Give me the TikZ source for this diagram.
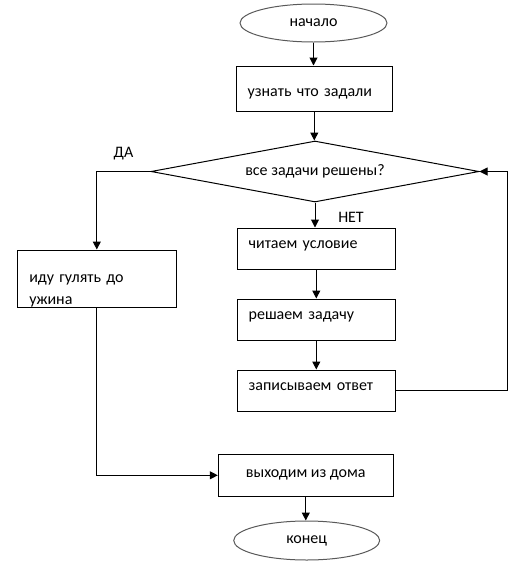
\documentclass[tikz,border=0pt]{standalone}
\usepackage{fontspec}
\setmainfont{Carlito}
\usetikzlibrary{shapes.geometric,arrows.meta}

\begin{document}
\begin{tikzpicture}[x=0.75pt,y=-0.75pt,
    font=\fontsize{12pt}{16.5pt}\selectfont,
    line width=0.75pt,
    >={Triangle[length=6pt,width=6pt]},
    box/.style={draw, rectangle, inner xsep=8.5pt, inner ysep=0pt, align=left,
                text height=6pt, text depth=6pt},
    term/.style={draw=black!65, ellipse, inner sep=0pt},
    test/.style={draw, diamond, inner sep=0pt, shape aspect=5.4}]
  \useasboundingbox (0,0) rectangle (521,565);
  % start / end
  \node[term, minimum width=110.25pt, minimum height=28.5pt] (start) at (313.5,23) {начало};
  \node[term, minimum width=109.5pt, minimum height=29.25pt] (stop) at (306.7,540.5) {конец};
  % steps
  \node[box, text width=100pt, minimum height=33.75pt, text height=12.5pt, text depth=0pt]
       (ask) at (314.3,88.5) {узнать что задали};
  \node[test, minimum width=246pt, minimum height=45.75pt] (done) at (315,171.5) {все задачи решены?};
  \node[box, text width=101.5pt, minimum height=30.75pt] (read) at (316.3,248.5) {читаем условие};
  \node[box, text width=101.5pt, minimum height=30.75pt] (solve) at (316.3,319.5) {решаем задачу};
  \node[box, text width=101.5pt, minimum height=30.75pt] (write) at (316.3,390.5) {записываем ответ};
  \node[draw, rectangle, inner xsep=9pt, inner ysep=0pt, align=left, text width=101.25pt,
        minimum height=42.75pt, text depth=0pt]
       (walk) at (96.8,278.5) {иду гулять до\\ужина};
  \node[draw, rectangle, minimum width=131.25pt, minimum height=31.5pt] (leave) at (305.8,475.3) {выходим из дома};
  % answers
  \node (yes) at (123.5,153.5) {ДА};
  \node (no) at (351,217.5) {НЕТ};
  \coordinate (back) at (507,0);
  % arrows
  \draw[->] (start.south) -- (start.south |- ask.north);
  \draw[->] (ask.south) -- (ask.south |- done.north);
  \draw[->] (done.south) -- (done.south |- read.north);
  \draw[->] (read) -- (solve);
  \draw[->] (solve) -- (write);
  \draw[->] (write.east) -- (write.east -| back) |- (done.east);
  \draw[->] (done.west) -| (walk.north);
  \draw[->] (walk.south) |- (leave.west);
  \draw[->] (leave.south) -- (leave.south |- stop.north);
\end{tikzpicture}
\end{document}
